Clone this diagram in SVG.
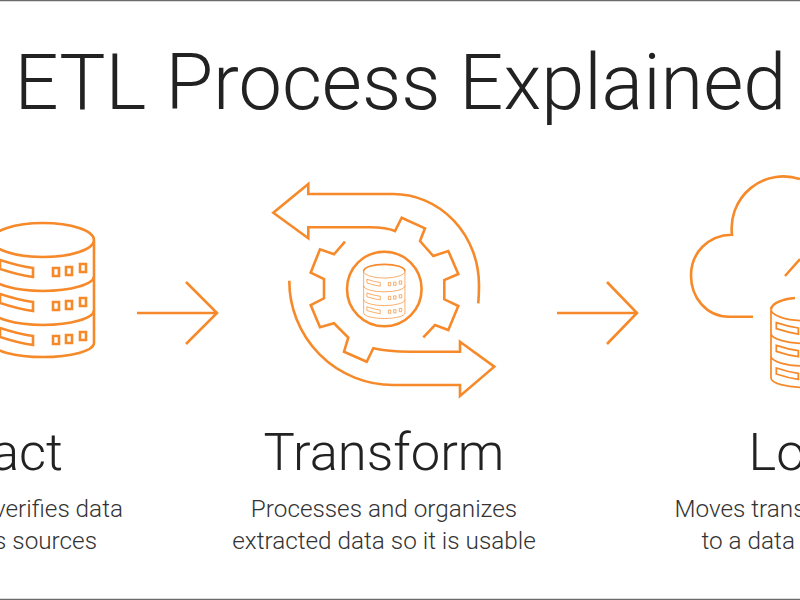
<svg xmlns="http://www.w3.org/2000/svg" xmlns:xlink="http://www.w3.org/1999/xlink" width="800" height="600" viewBox="0 0 800 600">
<style>
.ln{fill:none;stroke:#F68A2A;stroke-width:2.6;stroke-linejoin:miter}
.d path,.d ellipse{vector-effect:non-scaling-stroke}
.h{font-family:Roboto,"Liberation Sans",sans-serif;font-weight:300;fill:#222}
.t{font-size:77.5px}
.s{font-size:52.5px}
.b{font-family:Roboto,"Liberation Sans",sans-serif;font-weight:300;font-size:24.3px;fill:#333}
</style>
<defs>
<g id="db-body">
<path d="M-51 17A51 17 0 0 0 51 17M-51 17V120A51 14 0 0 0 51 120V17M-51 53A51 15 0 0 0 51 53M-51 87A51 15 0 0 0 51 87"/>
<g id="db-row">
<path d="M-43 37Q-25 43 -10 45V54Q-25 52 -43 46Z"/>
<path d="M10 45h6v8h-6zM23 44h6v8h-6zM37 41h6v8h-6z"/>
</g>
<use xlink:href="#db-row" y="34"/>
<use xlink:href="#db-row" y="68"/>
</g>
</defs>
<rect width="800" height="600" fill="#fff"/>
<path d="M0 .5H800M0 599.500H800" stroke="#6b6b6b" stroke-width="1.500" fill="none"/>
<text id="title" class="h t" x="14.500" y="109">ETL Process Explained</text>
<g id="extract">
<g class="ln d" transform="translate(43 223)">
<path d="M-51 17A51 17 0 0 1 51 17"/>
<use xlink:href="#db-body"/>
</g>
<text class="h s" x="63" y="470" text-anchor="end">act</text>
<text class="b" x="123" y="517" text-anchor="end">verifies data</text>
<text class="b" x="97" y="549" text-anchor="end">s sources</text>
</g>
<g id="transform">
<g class="ln">
<path d="M478.300 303.300Q479 294 479 285A86 91 0 0 0 393 194H308.300V184L273.300 212.700L308.300 238.300V227.300H370C380 227.300 388 228 395 231L401.700 217.700L425 228.300L420 241L433.300 256L448.300 251L458.300 274L444.300 280V299.300L458.300 306L448.300 330L435 325L423.300 337.300"/>
<path d="M345 241.700L334 254.300L320 249.300L310.700 272.700L324 279V298.300L310.700 305L320 327.300L334 323.300L348.300 337.700L344 351.700L366.700 361.700L373.300 348.300C385 351 395 351.700 410 351.700H460V341.700L494.300 366.700L460 396V385H393A104 104 0 0 1 289.300 280.700"/>
</g>
<circle class="ln" cx="384.300" cy="289" r="37.300"/>
<g class="ln d" style="stroke-width:1.700" transform="translate(384.300 264.300) scale(.405)">
<path d="M-51 17A51 17 0 0 1 51 17"/>
<use xlink:href="#db-body"/>
</g>
<text class="h s" x="384" y="470" text-anchor="middle">Transform</text>
<text class="b" x="384" y="517" text-anchor="middle">Processes and organizes</text>
<text class="b" x="384" y="549" text-anchor="middle">extracted data so it is usable</text>
</g>
<g id="load">
<path class="ln" d="M753 316.700H729C706 316.700 691 297 691 275.500C691 253 708 235 732 234.700A52 52 0 0 1 800 179M785 276L800 259"/>
<g class="ln d" transform="translate(805 298) scale(.667)">
<use xlink:href="#db-body"/>
</g>
<path class="ln" d="M771 309.300C772 303 783 299 795 298"/>
<text class="h s" x="748.500" y="470">Lo</text>
<text class="b" x="674.500" y="517">Moves trans</text>
<text class="b" x="701.500" y="549">to a data</text>
</g>
<g id="connectors" class="ln">
<path d="M137 313H217M186 282L217 313L186 344"/>
<path d="M557 313H637M607 282L637 313L607 344"/>
</g>
</svg>
